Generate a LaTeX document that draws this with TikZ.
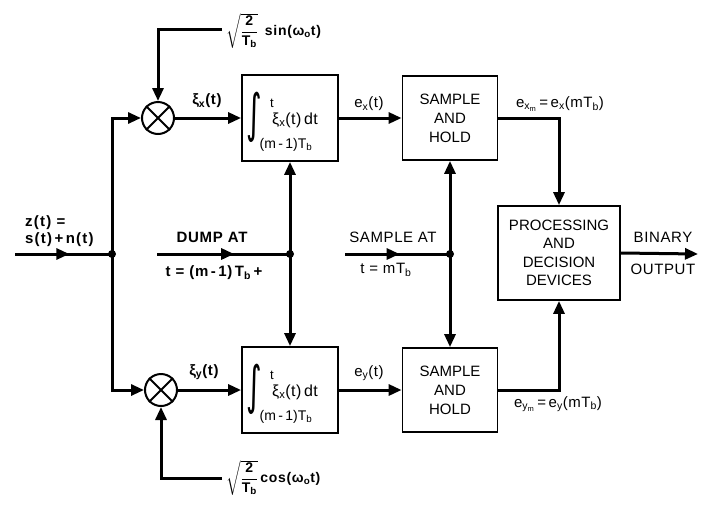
\documentclass[tikz,border=0pt]{standalone}
\usepackage{fontspec}
\usepackage{amsmath}
\usepackage{graphicx}
\setmainfont{Liberation Sans}
\newfontfamily\symfont{DejaVu Sans}
\usetikzlibrary{arrows.meta,decorations.markings,calc}
\tikzset{
  wire/.style={line width=3pt},
  tipstyle/.tip={Triangle[length=13pt,width=11pt]},
  arr/.style={wire,-tipstyle},
  midarr/.style={wire,postaction={decorate},decoration={markings,mark=at position #1 with {\arrow{tipstyle}}}},
  block/.style={draw,line width=1.8pt,minimum width=96pt,minimum height=86pt,align=center,font=\fontsize{15}{19}\selectfont,inner sep=0pt},
  mult/.style={draw,circle,line width=2pt,minimum size=32pt,inner sep=0pt},
  jdot/.style={circle,fill,inner sep=0pt,minimum size=8pt},
  lab/.style={font=\bfseries\fontsize{15}{16}\selectfont\addfontfeature{LetterSpace=5},inner sep=0pt},
  nlab/.style={font=\fontsize{15}{16}\selectfont\addfontfeature{LetterSpace=4},inner sep=0pt},
  intpart/.style={inner sep=0pt,font=\fontsize{15}{16}\selectfont},
}
\newcommand{\intparts}[2]{%
  \node[intpart,font=\symfont\fontsize{26}{26}\selectfont] (#1s) at ($(#1)+(-36,-1)$) {\scalebox{1.15}[2.0]{∫}};
  \node[intpart,font=\fontsize{13}{13}\selectfont] (#1t) at ($(#1)+(-18,-15)$) {t};
  \node[intpart,font=\fontsize{16}{16}\selectfont\addfontfeature{LetterSpace=3}] (#1f) at ($(#1)+(5,2)$) {ξ\textsubscript{#2}(t)\,dt};
  \node[intpart,font=\fontsize{14}{14}\selectfont] (#1l) at ($(#1)+(-4,27)$) {(m\,-\,1)T\textsubscript{b}};
}
\begin{document}
\begin{tikzpicture}[x=1pt,y=-1pt]
\useasboundingbox (0,0) rectangle (712,504);
% nodes
\node[mult] (m1) at (158,118) {};
\node[mult] (m2) at (161,390) {};
\node[block] (int1) at (290,118) {};
\node[block] (int2) at (290,390) {};
\intparts{int1}{x}
\intparts{int2}{x}
\node[block,minimum width=95pt,minimum height=84pt] (sh1) at (450,118) {SAMPLE\\AND\\HOLD};
\node[block,minimum width=95pt,minimum height=84pt] (sh2) at (450,390) {SAMPLE\\AND\\HOLD};
\node[block,minimum width=122pt,minimum height=94pt,font=\fontsize{15}{18.5}\selectfont] (proc) at (559,253) {PROCESSING\\AND\\DECISION\\DEVICES};
% crosses in multipliers
\foreach \m in {m1,m2}{
  \draw[line width=2pt] (\m.north west) -- (\m.south east) (\m.north east) -- (\m.south west);
}
% junctions and free ends
\coordinate (in) at (15,254);
\node[jdot] (j1) at (112,254) {};
\coordinate (dumpin) at (157,254);
\node[jdot] (dj) at (290,254) {};
\coordinate (sampin) at (345,254);
\node[jdot] (sj) at (450,254) {};
\coordinate (out) at (698,254);
\coordinate (sinc) at (222,29);
\coordinate (cosc) at (222,478);
% connectors
\draw[midarr=0.56] (in) -- (j1.center);
\draw[arr] (j1.center) |- (m1.west);
\draw[arr] (j1.center) |- (m2.west);
\draw[arr] (sinc) -| (m1.north);
\draw[arr] (cosc) -| (m2.south);
\draw[arr] (m1.east) -- (int1.west);
\draw[arr] (m2.east) -- (int2.west);
\draw[arr] (int1.east) -- (sh1.west);
\draw[arr] (int2.east) -- (sh2.west);
\draw[midarr=0.58] (dumpin) -- (dj.center);
\draw[arr] (dj.center) -- (int1.south);
\draw[arr] (dj.center) -- (int2.north);
\draw[midarr=0.52] (sampin) -- (sj.center);
\draw[arr] (sj.center) -- (sh1.south);
\draw[arr] (sj.center) -- (sh2.north);
\draw[arr] (sh1.east) -| (proc.north);
\draw[arr] (sh2.east) -| (proc.south);
\draw[arr] (proc.east) -- (out);
% labels
\node[lab,anchor=south west,align=left,font=\bfseries\fontsize{15}{17}\selectfont\addfontfeature{LetterSpace=8}] (zlab) at (25,247) {z(t) =\\s(t)\,+\,n(t)};
\node[lab,anchor=west,font=\bfseries\fontsize{14}{15}\selectfont\addfontfeature{LetterSpace=5}] (sinlab) at (226,31) {$\sqrt{\dfrac{\text{2}}{\text{T}_{\text{b}}}}$\, sin(ω\textsubscript{o}t)};
\node[lab,anchor=west,font=\bfseries\fontsize{14}{15}\selectfont\addfontfeature{LetterSpace=5}] (coslab) at (226,478) {$\sqrt{\dfrac{\text{2}}{\text{T}_{\text{b}}}}$\,cos(ω\textsubscript{o}t)};
\node[lab] (xilab) at (207,101) {ξ\textsubscript{x}(t)};
\node[lab] (yilab) at (204,372) {ξ\textsubscript{y}(t)};
\node[lab] (dumplab) at (212,237) {DUMP AT};
\node[lab] (dumpt) at (214,273) {t = (m\,-\,1)\,T\textsubscript{b}\,+};
\node[nlab] (exlab) at (369,104) {e\textsubscript{x}(t)};
\node[nlab] (eylab) at (369,373) {e\textsubscript{y}(t)};
\node[nlab] (samplab) at (393,237) {SAMPLE AT};
\node[nlab] (sampt) at (386,270) {t = mT\textsubscript{b}};
\node[nlab] (exmlab) at (560,104) {$\text{e}_{\text{x}_{\text{m}}}$\,=\,e\textsubscript{x}(mT\textsubscript{b})};
\node[nlab] (eymlab) at (558,404) {$\text{e}_{\text{y}_{\text{m}}}$\,=\,e\textsubscript{y}(mT\textsubscript{b})};
\node[nlab] (binlab) at (663,237) {BINARY};
\node[nlab] (outlab) at (663,269) {OUTPUT};
\end{tikzpicture}
\end{document}
